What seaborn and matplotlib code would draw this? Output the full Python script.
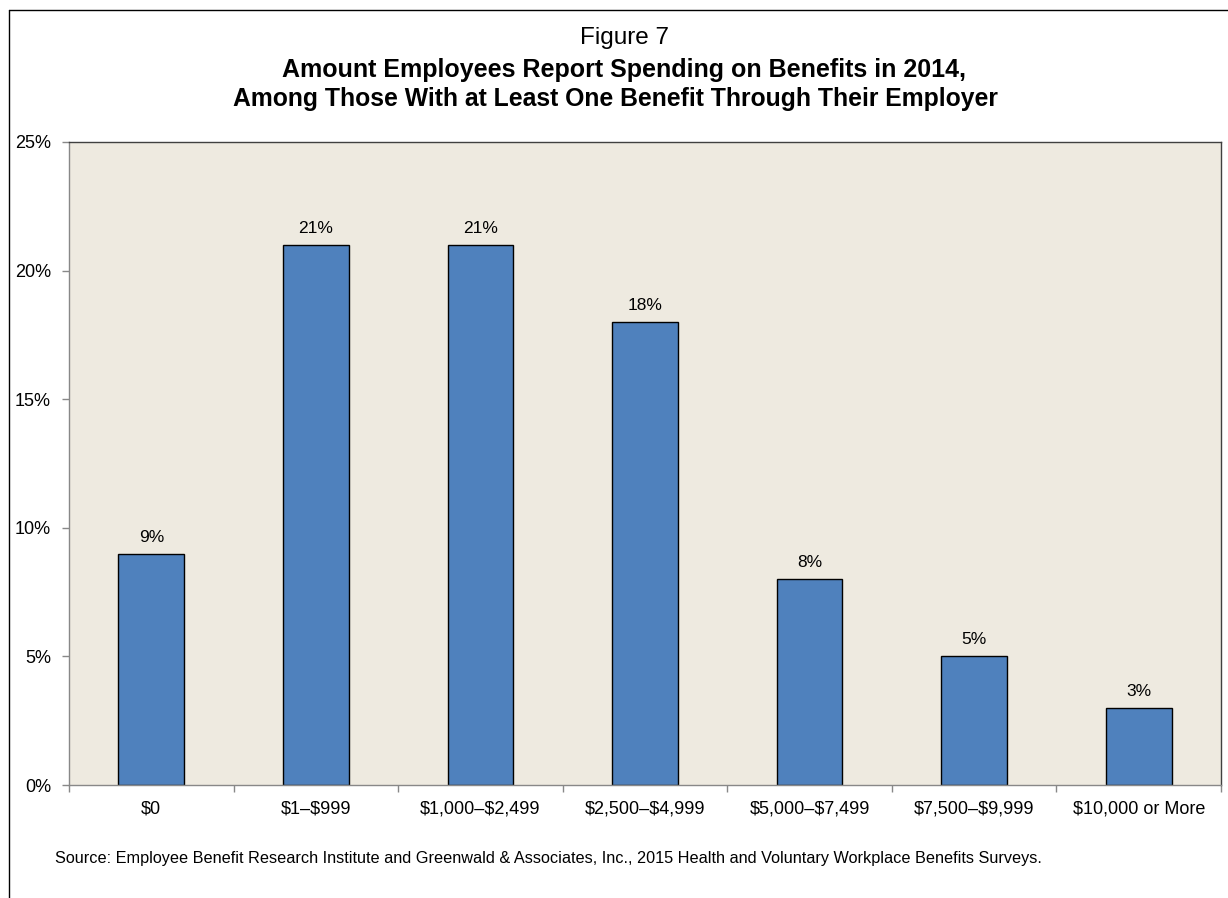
import matplotlib
matplotlib.use("Agg")
import matplotlib.pyplot as plt
import seaborn as sns
import pandas as pd
from matplotlib.lines import Line2D
from matplotlib.ticker import FuncFormatter, MultipleLocator

categories = ["$0", "$1\u2013$999", "$1,000\u2013$2,499", "$2,500\u2013$4,999",
              "$5,000\u2013$7,499", "$7,500\u2013$9,999", "$10,000 or More"]
shares = [9, 21, 21, 18, 8, 5, 3]

sns.set_style("white")
plt.rcParams["font.family"] = ["Liberation Sans", "DejaVu Sans"]
plt.rcParams["text.parse_math"] = False
plt.rcParams["text.color"] = "black"
plt.rcParams["xtick.color"] = "black"
plt.rcParams["ytick.color"] = "black"

df = pd.DataFrame({"category": categories, "share": shares})

fig = plt.figure(figsize=(12.28, 8.98), dpi=100)
ax = fig.add_axes([69 / 1228, 1 - 785 / 898, (1221 - 69) / 1228, (785 - 142) / 898])
ax.set_facecolor("#EEEAE0")

sns.barplot(data=df, x="category", y="share", color="#4F81BD", width=0.4,
            edgecolor="black", linewidth=1.0, saturation=1, ax=ax)

for i, v in enumerate(shares):
    ax.text(i, v + 0.35, f"{v}%", ha="center", va="bottom", fontsize=12.5)

ax.set_ylim(0, 25)
ax.set_xlim(-0.5, len(categories) - 0.5)
ax.yaxis.set_major_locator(MultipleLocator(5))
ax.yaxis.set_major_formatter(FuncFormatter(lambda v, p: f"{v:.0f}%"))
ax.set_xlabel("")
ax.set_ylabel("")

# category boundaries carry the tick marks, category centres carry the labels
ax.set_xticks([i + 0.5 for i in range(-1, len(categories))], minor=False)
ax.set_xticklabels([])
ax.set_xticks(range(len(categories)), minor=True)
ax.set_xticklabels(categories, minor=True, fontsize=13)
ax.tick_params(axis="x", which="major", length=5, color="#888888", width=1, direction="out", bottom=True)
ax.tick_params(axis="x", which="minor", length=0, pad=11)
ax.tick_params(axis="y", length=5, color="#888888", width=1, direction="out", left=True, labelsize=13, pad=8)

for side in ["top", "right"]:
    ax.spines[side].set_color("#404040")
    ax.spines[side].set_linewidth(1.0)
for side in ["left", "bottom"]:
    ax.spines[side].set_color("#888888")
    ax.spines[side].set_linewidth(1.0)

fig.text(624 / 1228, 1 - 38 / 898, "Figure 7", ha="center", va="center", fontsize=17.5)
fig.text(624 / 1228, 1 - 70 / 898, "Amount Employees Report Spending on Benefits in 2014,",
         ha="center", va="center", fontsize=18, fontweight="bold")
fig.text(615 / 1228, 1 - 99 / 898, "Among Those With at Least One Benefit Through Their Employer",
         ha="center", va="center", fontsize=17.8, fontweight="bold")
fig.text(55 / 1228, 1 - 858 / 898,
         "Source: Employee Benefit Research Institute and Greenwald & Associates, Inc., 2015 Health and Voluntary Workplace Benefits Surveys.",
         ha="left", va="center", fontsize=11.7)

# outer frame
fig.add_artist(Line2D([9 / 1228, 9 / 1228], [0, 1 - 10 / 898], transform=fig.transFigure,
                      color="black", linewidth=1.0))
fig.add_artist(Line2D([9 / 1228, 1], [1 - 10 / 898, 1 - 10 / 898], transform=fig.transFigure,
                      color="black", linewidth=1.0))

fig.savefig("out.png", dpi=100)
